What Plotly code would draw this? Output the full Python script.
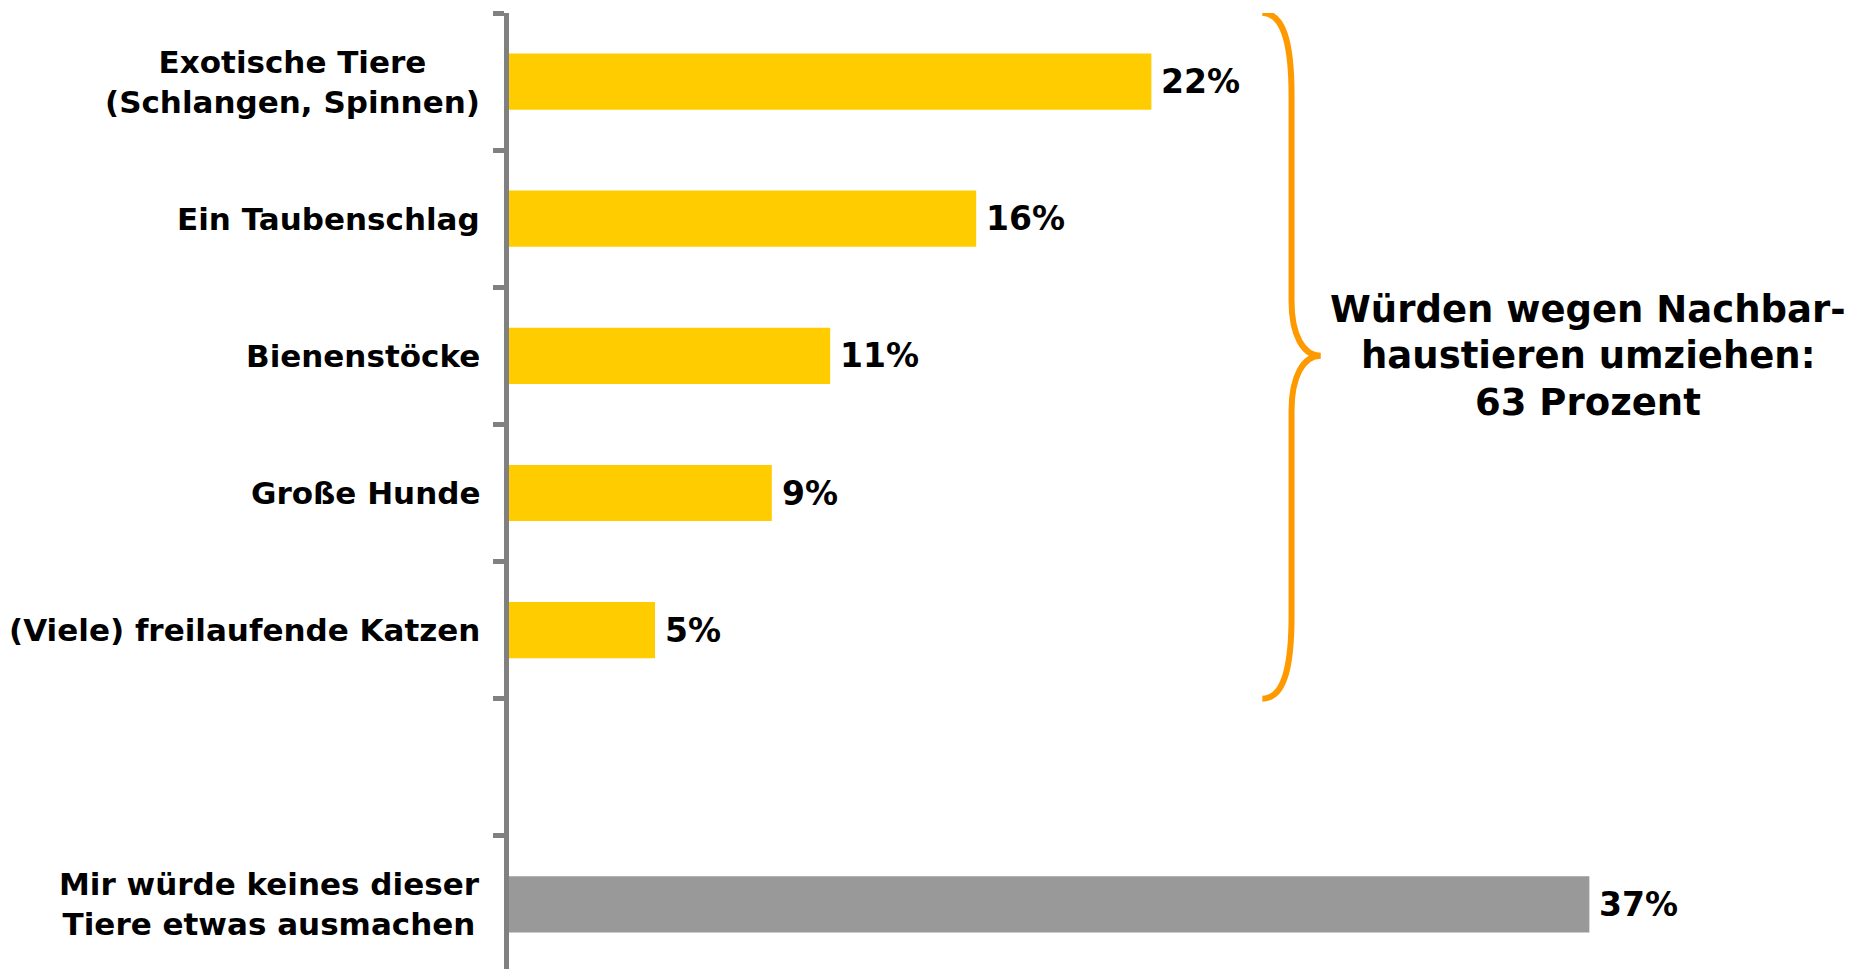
import plotly.graph_objects as go

categories = ["Exotische Tiere<br>(Schlangen, Spinnen)", "Ein Taubenschlag", "Bienenstöcke",
              "Große Hunde", "(Viele) freilaufende Katzen", "",
              "Mir würde keines dieser<br>Tiere etwas ausmachen"]
values = [22, 16, 11, 9, 5, None, 37]
colors = ["#FFCC00", "#FFCC00", "#FFCC00", "#FFCC00", "#FFCC00", "#FFCC00", "#999999"]
brace_lines = ["Würden wegen Nachbar-", "haustieren umziehen:", "63 Prozent"]
brace_line_y = [1.66, 2.0, 2.34]

FONT = "DejaVu Sans"
positions = list(range(len(categories)))
bar_y = [p for p, v in zip(positions, values) if v is not None]
bar_x = [v for v in values if v is not None]
bar_c = [c for c, v in zip(colors, values) if v is not None]

fig = go.Figure()
fig.add_trace(go.Bar(
    x=bar_x, y=bar_y, orientation="h", width=0.41,
    marker=dict(color=bar_c, line=dict(width=0)),
    hoverinfo="skip",
))

annotations = []
for p, cat in zip(positions, categories):
    if cat:
        annotations.append(dict(
            x=0, xref="paper", y=p, yref="y", text=cat, showarrow=False,
            xanchor="right", yanchor="middle", align="center", xshift=-27,
            font=dict(family=FONT, size=31, color="black", weight="bold")))
for p, v in zip(bar_y, bar_x):
    annotations.append(dict(
        x=v, y=p, xref="x", yref="y", text=f"{v}%", showarrow=False,
        xanchor="left", yanchor="middle", xshift=8,
        font=dict(family=FONT, size=33, color="black", weight="bold")))
for line, ly in zip(brace_lines, brace_line_y):
    annotations.append(dict(
        x=36.95, y=ly, xref="x", yref="y", text=line, showarrow=False,
        xanchor="center", yanchor="middle", align="center",
        font=dict(family=FONT, size=37, color="black", weight="bold")))

brace_path = ("M 25.8,-0.5 C 26.5,-0.5 26.8,-0.3 26.8,0.1 L 26.8,1.6 "
              "C 26.8,1.85 27.2,2.0 27.8,2.0 C 27.2,2.0 26.8,2.15 26.8,2.4 "
              "L 26.8,3.9 C 26.8,4.3 26.5,4.5 25.8,4.5")

fig.update_layout(
    width=1862, height=969,
    margin=dict(l=501, r=12, t=5, b=4, autoexpand=False),
    paper_bgcolor="white", plot_bgcolor="white",
    showlegend=False,
    annotations=annotations,
    shapes=[dict(type="path", path=brace_path, xref="x", yref="y",
                 line=dict(color="#FF9900", width=6))],
    xaxis=dict(visible=False, range=[0, 46.2], fixedrange=True),
    yaxis=dict(range=[6.5, -0.5], showticklabels=False, showgrid=False, zeroline=False,
               showline=True, linecolor="#808080", linewidth=5,
               ticks="outside", tickvals=[i - 0.5 for i in range(len(categories) + 1)],
               ticklen=11, tickwidth=5, tickcolor="#808080", automargin=False,
               fixedrange=True),
)

fig.write_html("out.html")
